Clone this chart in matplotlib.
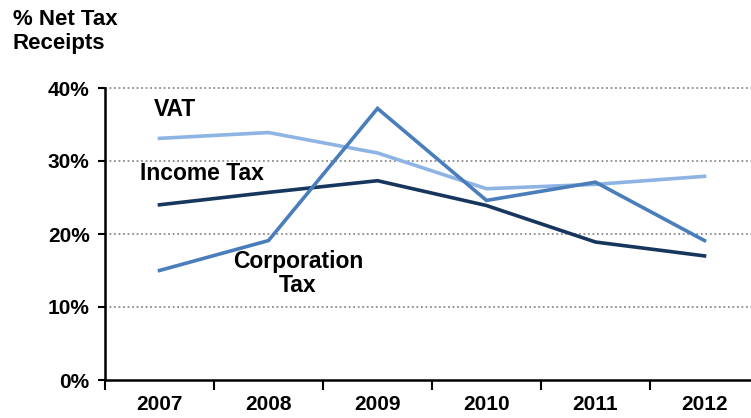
import matplotlib
matplotlib.use("Agg")
import matplotlib.pyplot as plt
import numpy as np

years = ["2007", "2008", "2009", "2010", "2011", "2012"]
vat = [33.1, 33.9, 31.1, 26.2, 26.8, 27.9]
income_tax = [24.0, 25.7, 27.3, 23.9, 18.9, 17.0]
corporation_tax = [15.0, 19.1, 37.2, 24.6, 27.1, 19.1]

y_ticks = [0, 10, 20, 30, 40]
y_tick_labels = ["0%", "10%", "20%", "30%", "40%"]

plt.rcParams["font.family"] = ["Liberation Sans", "DejaVu Sans"]
plt.rcParams["font.weight"] = "bold"

W, H = 751, 418
fig = plt.figure(figsize=(W / 100, H / 100), dpi=100)
left, right, bottom, top = 105, 759, 380, 88
ax = fig.add_axes([left / W, (H - bottom) / H, (right - left) / W, (bottom - top) / H])

x = np.arange(len(years))
c_vat = "#8EB4E3"
c_corp = "#4A7EBB"
c_inc = "#17365D"

ax.plot(x, vat, color=c_vat, lw=2.6, solid_joinstyle="miter", zorder=3)
ax.plot(x, income_tax, color=c_inc, lw=2.6, solid_joinstyle="miter", zorder=3)
ax.plot(x, corporation_tax, color=c_corp, lw=2.6, solid_joinstyle="miter", zorder=4)

ax.set_xlim(-0.5, len(years) - 0.5)
ax.set_ylim(0, 40)

for yv in y_ticks[1:]:
    ax.axhline(yv, color="#8C8C8C", lw=1.3, ls=(0, (1, 1.5)), zorder=1, clip_on=False)

ax.set_yticks(y_ticks)
ax.set_yticklabels(y_tick_labels, fontsize=15, fontweight="bold")
ax.tick_params(axis="y", direction="out", length=5, width=1.5, pad=6)

ax.set_xticks(np.arange(len(years) + 1) - 0.5)
ax.set_xticklabels([])
ax.set_xticks(x, minor=True)
ax.set_xticklabels(years, minor=True, fontsize=15, fontweight="bold")
ax.tick_params(axis="x", which="major", direction="out", length=7, width=1.5)
ax.tick_params(axis="x", which="minor", length=0, pad=11)

for s in ["top", "right"]:
    ax.spines[s].set_visible(False)
for s in ["left", "bottom"]:
    ax.spines[s].set_linewidth(1.8)

ax.text(-0.05, 37.0, "VAT", fontsize=16.5, fontweight="bold", ha="left", va="center")
ax.text(-0.18, 28.3, "Income Tax", fontsize=16.5, fontweight="bold", ha="left", va="center")
ax.text(1.27, 14.6, "Corporation\nTax", fontsize=16.5, fontweight="bold", ha="center",
        va="center", linespacing=1.05)

fig.text(13 / W, 1 - 9 / H, "% Net Tax\nReceipts", fontsize=16, fontweight="bold",
         ha="left", va="top", linespacing=1.2)

fig.savefig("out.png", dpi=100)
